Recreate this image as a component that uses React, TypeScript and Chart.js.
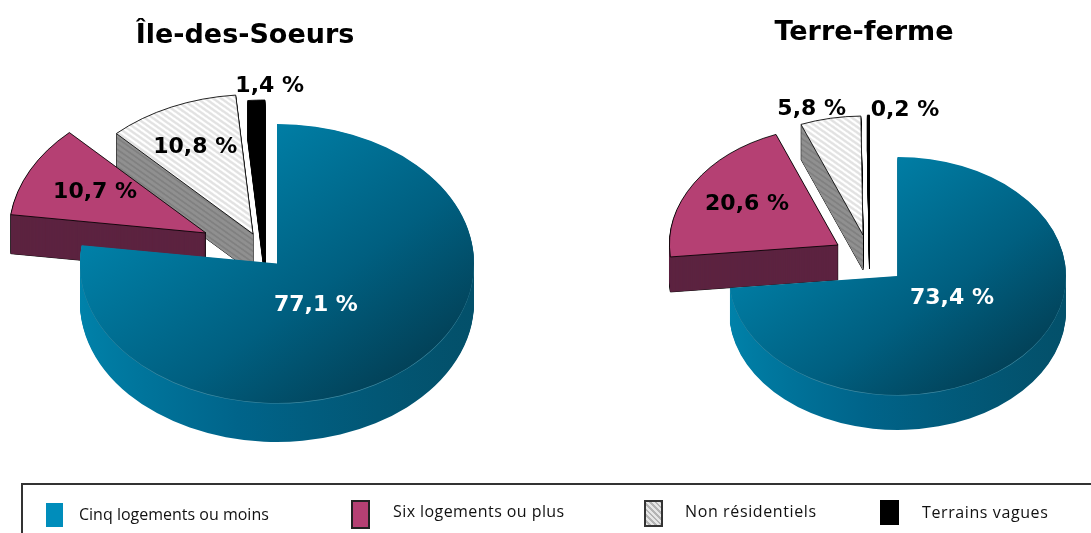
import React, { useEffect, useRef } from "react";
import { Chart, registerables } from "chart.js";

Chart.register(...registerables);

const categories = ["Cinq logements ou moins", "Six logements ou plus", "Non résidentiels", "Terrains vagues"];
const titleLeft = "Île-des-Soeurs";
const titleRight = "Terre-ferme";
const valuesLeft = [77.1, 10.7, 10.8, 1.4];
const valuesRight = [73.4, 20.6, 5.8, 0.2];

const FONT = '"DejaVu Sans", sans-serif';

const leftPie = {
  title: titleLeft, values: valuesLeft, canvasX: 0, canvasW: 490, radiusPad: 47.5,
  centre: [277, 263.5], squash: 0.708, depth: 39, titleTop: 20,
  shifts: [[0, 0], [-71, -30.5], [-24, -29.5], [-12, -24]],
  labelNudge: [[-26, -11], [-23, -9.5], [-17, -23], [9, -84]],
};
const rightPie = {
  title: titleRight, values: valuesRight, canvasX: 640, canvasW: 448, radiusPad: 55,
  centre: [897.5, 276], squash: 0.706, depth: 35, titleTop: 17,
  shifts: [[0, 0], [-59.5, -31], [-34.5, -41], [-28, -42]],
  labelNudge: [[-8, -18], [-19, -10], [-35, -67], [36, -64.5]],
};

function hatch(bg: string, line: string, width: number) {
  const c = document.createElement("canvas");
  c.width = 8; c.height = 8;
  const g = c.getContext("2d")!;
  g.fillStyle = bg; g.fillRect(0, 0, 8, 8);
  g.strokeStyle = line; g.lineWidth = width;
  g.beginPath();
  g.moveTo(-2, -2); g.lineTo(10, 10);
  g.moveTo(-2, 6); g.lineTo(2, 10);
  g.moveTo(6, -2); g.lineTo(10, 2);
  g.stroke();
  return c;
}

function pie3dPlugin(cfg: any) {
  return {
    id: "pie3d",
    beforeDatasetDraw(chart: any) {
      const ctx = chart.ctx as CanvasRenderingContext2D;
      const arcs = chart.getDatasetMeta(0).data;
      const a0 = arcs[0];
      const r = a0.outerRadius;
      const faceGrad = ctx.createLinearGradient(a0.x - r * 0.6, a0.y - r * 0.6, a0.x + r * 0.85, a0.y + r * 0.85);
      faceGrad.addColorStop(0, "#0082aa");
      faceGrad.addColorStop(0.55, "#005f80");
      faceGrad.addColorStop(1, "#033a4e");
      const wallGrad = ctx.createLinearGradient(a0.x - r, a0.y - r * 0.2, a0.x + r, a0.y + r * 0.2);
      wallGrad.addColorStop(0, "#0084ac");
      wallGrad.addColorStop(0.5, "#00648a");
      wallGrad.addColorStop(1, "#03506a");
      const facePattern = ctx.createPattern(hatch("#ffffff", "#e2e2e2", 3), "repeat")!;
      const wallPattern = ctx.createPattern(hatch("#909090", "#808080", 2), "repeat")!;
      const face = [faceGrad, "#b54073", facePattern, "#000000"];
      const wall = [wallGrad, "#5c2340", wallPattern, "#000000"];
      const border = [0, 1, 1, 1];
      const place = (i: number, down: number) => {
        const [dx, dy] = cfg.shifts[i];
        ctx.translate(cfg.centre[0] - cfg.canvasX + dx, cfg.centre[1] + dy + down);
        ctx.scale(1, cfg.squash);
        ctx.translate(-arcs[i].x, -arcs[i].y);
      };
      const paint = (i: number, down: number, fill: any, bw: number) => {
        const arc = arcs[i];
        const saved = arc.options;
        arc.options = { ...saved, backgroundColor: fill, borderColor: "#000000", borderWidth: bw };
        ctx.save();
        place(i, down);
        arc.draw(ctx);
        ctx.restore();
        arc.options = saved;
      };
      for (let i = arcs.length - 1; i >= 0; i--) {
        if (border[i]) {
          for (let d = cfg.depth; d >= 1; d--) paint(i, d, "#000000", 1);
        }
        for (let d = cfg.depth; d >= 1; d--) {
          // keep the wall's hatching still while the slice steps down
          wallPattern.setTransform(new DOMMatrix([1, 0, 0, 1, 0, -d / cfg.squash]));
          paint(i, d, wall[i], 0);
        }
        if (i === 0) paint(i, 0.6, "#3f8aa2", 0); // thin light rim along the front edge
        paint(i, 0, face[i], border[i]);
      }
      return false;
    },
    afterDatasetsDraw(chart: any) {
      const ctx = chart.ctx as CanvasRenderingContext2D;
      const arcs = chart.getDatasetMeta(0).data;
      ctx.save();
      ctx.font = `bold 22px ${FONT}`;
      ctx.textAlign = "center";
      ctx.textBaseline = "middle";
      arcs.forEach((arc: any, i: number) => {
        const p = arc.getCenterPoint();
        const x = cfg.centre[0] - cfg.canvasX + cfg.shifts[i][0] + (p.x - arc.x) + cfg.labelNudge[i][0];
        const y = cfg.centre[1] + cfg.shifts[i][1] + (p.y - arc.y) * cfg.squash + cfg.labelNudge[i][1];
        ctx.fillStyle = i === 0 ? "#ffffff" : "#000000";
        ctx.fillText(`${String(cfg.values[i]).replace(".", ",")} %`, x, y);
      });
      ctx.restore();
    },
  };
}

function Pie({ cfg }: { cfg: any }) {
  const ref = useRef<HTMLCanvasElement>(null);
  useEffect(() => {
    const chart = new Chart(ref.current!, {
      type: "pie",
      data: {
        labels: categories,
        datasets: [{
          data: cfg.values,
          backgroundColor: ["#0082aa", "#b54073", "#e8e8e8", "#000000"],
          borderWidth: [0, 1, 1, 1],
          borderColor: "#000000",
        }],
      },
      options: {
        responsive: false,
        animation: false,
        layout: { padding: { left: cfg.radiusPad, right: cfg.radiusPad, top: 0, bottom: 0 } },
        plugins: {
          legend: { display: false },
          tooltip: { enabled: false },
          title: {
            display: true,
            text: cfg.title,
            color: "#000000",
            font: { family: FONT, size: 27, weight: "bold", lineHeight: 1.2 },
            padding: { top: cfg.titleTop, bottom: 0 },
          },
        },
      },
      plugins: [pie3dPlugin(cfg)],
    } as any);
    return () => chart.destroy();
  }, [cfg]);
  return (
    <canvas
      ref={ref}
      width={cfg.canvasW}
      height={533}
      style={{ position: "absolute", left: cfg.canvasX, top: 0, width: cfg.canvasW, height: 533 }}
    />
  );
}

const legendFont: React.CSSProperties = {
  position: "absolute",
  fontFamily: '"Open Sans", sans-serif',
  fontSize: 16,
  lineHeight: "20px",
  color: "#111",
  whiteSpace: "nowrap",
};

const hatchCss = "repeating-linear-gradient(45deg, #e6e6e6 0 2px, #b4b4b4 2px 4px)";

const swatches: React.CSSProperties[] = [
  { left: 46, top: 503, width: 17, height: 24, background: "#008dbb" },
  { left: 351, top: 500, width: 15, height: 25, background: "#b54073", border: "2px solid #222" },
  { left: 644, top: 500, width: 15, height: 23, background: hatchCss, border: "2px solid #333" },
  { left: 880, top: 500, width: 19, height: 25, background: "#000" },
];
const legendTextPos: React.CSSProperties[] = [
  { left: 79, top: 504 },
  { left: 393, top: 501, letterSpacing: 0.43 },
  { left: 685, top: 501, letterSpacing: 0.62 },
  { left: 922, top: 502, letterSpacing: 0.6 },
];

export default function App() {
  useEffect(() => {
    document.body.style.margin = "0";
  }, []);
  return (
    <div style={{ position: "absolute", left: 0, top: 0, width: 1091, height: 533, overflow: "hidden", background: "#fff" }}>
      <Pie cfg={leftPie} />
      <Pie cfg={rightPie} />
      <div style={{ position: "absolute", left: 21, top: 483, width: 1080, height: 80, border: "2px solid #333", boxSizing: "border-box" }} />
      {categories.map((c, i) => (
        <React.Fragment key={c}>
          <div style={{ position: "absolute", ...swatches[i] }} />
          <div style={{ ...legendFont, ...legendTextPos[i] }}>{c}</div>
        </React.Fragment>
      ))}
    </div>
  );
}
